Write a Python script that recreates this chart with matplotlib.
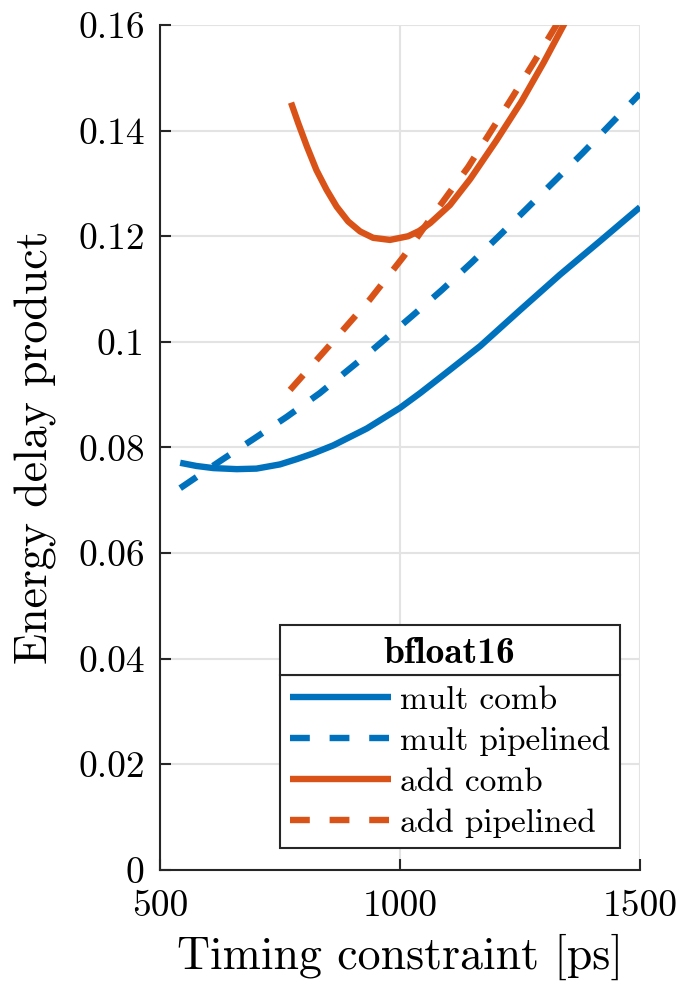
import matplotlib
matplotlib.use("Agg")
import matplotlib.pyplot as plt
from matplotlib.patches import Rectangle

# Energy-delay product vs. timing constraint (bfloat16 units)
mult_comb_t = [542, 576, 611, 660, 701, 750, 785, 820, 861, 931, 1000, 1042, 1083, 1167, 1250, 1333, 1417, 1500]
mult_comb_e = [0.0771, 0.0765, 0.0761, 0.0759, 0.0760, 0.0768, 0.0778, 0.0789, 0.0804, 0.0836, 0.0875,
               0.0903, 0.0932, 0.0992, 0.1060, 0.1127, 0.1191, 0.1255]

mult_pipe_t = [542, 628, 698, 764, 833, 930, 1024, 1087, 1149, 1208, 1267, 1380, 1500]
mult_pipe_e = [0.0723, 0.0776, 0.0818, 0.0858, 0.0903, 0.0975, 0.1048, 0.1098, 0.1150, 0.1202, 0.1255,
               0.1357, 0.1470]

add_comb_t = [773, 788, 806, 826, 847, 868, 892, 917, 944, 979, 1017, 1040, 1063, 1104, 1146, 1200,
              1253, 1300, 1344]
add_comb_e = [0.1453, 0.1414, 0.1370, 0.1325, 0.1288, 0.1256, 0.1228, 0.1209, 0.1197, 0.1193, 0.1200,
              0.1210, 0.1225, 0.1259, 0.1308, 0.1380, 0.1455, 0.1530, 0.1605]

add_pipe_t = [771, 850, 937, 1007, 1049, 1097, 1142, 1191, 1236, 1280, 1330]
add_pipe_e = [0.0909, 0.0990, 0.1080, 0.1161, 0.1215, 0.1275, 0.1331, 0.1401, 0.1466, 0.1531, 0.1606]

series_labels = ["mult comb", "mult pipelined", "add comb", "add pipelined"]
legend_title = "bfloat16"
x_ticks = [500, 1000, 1500]
y_ticks = [0, 0.02, 0.04, 0.06, 0.08, 0.1, 0.12, 0.14, 0.16]
y_tick_labels = ["0", "0.02", "0.04", "0.06", "0.08", "0.1", "0.12", "0.14", "0.16"]

BLUE = "#0072BD"
ORANGE = "#D95319"
DARK = "#262626"

plt.rcParams["font.family"] = ["cmr10", "DejaVu Serif"]
plt.rcParams["axes.formatter.use_mathtext"] = True

fig = plt.figure(figsize=(6.85, 9.91), dpi=100)
ax = fig.add_axes([0.2336, 0.1221, 0.9343 - 0.2336, 0.9748 - 0.1221])

lw = 4.6
dash = (3.1, 3.1)
ax.plot(mult_comb_t, mult_comb_e, color=BLUE, lw=lw, label=series_labels[0],
        solid_capstyle="butt", solid_joinstyle="round")
ax.plot(mult_pipe_t, mult_pipe_e, color=BLUE, lw=lw, dashes=dash, label=series_labels[1],
        dash_capstyle="butt")
ax.plot(add_comb_t, add_comb_e, color=ORANGE, lw=lw, label=series_labels[2],
        solid_capstyle="butt", solid_joinstyle="round")
ax.plot(add_pipe_t, add_pipe_e, color=ORANGE, lw=lw, dashes=dash, label=series_labels[3],
        dash_capstyle="butt")

ax.set_xlim(500, 1500)
ax.set_ylim(0, 0.16)
ax.set_xticks(x_ticks)
ax.set_xticklabels([str(t) for t in x_ticks])
ax.set_yticks(y_ticks)
ax.set_yticklabels(y_tick_labels)

ax.grid(True, color="#e3e3e3", lw=1.5)
ax.set_axisbelow(True)
for side in ("top", "right"):
    ax.spines[side].set_visible(False)
for side in ("left", "bottom"):
    ax.spines[side].set_color(DARK)
    ax.spines[side].set_linewidth(1.5)

ax.tick_params(direction="in", length=8, width=1.5, colors=DARK, labelsize=27, pad=11)
ax.tick_params(axis="x", pad=14)
for lbl in ax.get_xticklabels() + ax.get_yticklabels():
    lbl.set_color("black")

ax.set_xlabel("Timing constraint [ps]", fontsize=33)
ax.set_ylabel("Energy delay product", fontsize=33)
ax.xaxis.set_label_coords(0.5, -0.075)
ax.yaxis.set_label_coords(-0.215, 0.5)

leg = ax.legend(loc="lower right", bbox_to_anchor=(0.958, 0.026), fontsize=24,
                frameon=True, fancybox=False, edgecolor=DARK, framealpha=1,
                handlelength=3.05, handletextpad=0.25, labelspacing=0.35, borderpad=0.3,
                borderaxespad=0)
leg.get_frame().set_linewidth(1.5)

# Title cell stacked on top of the legend frame
fig.canvas.draw()
r = fig.canvas.get_renderer()
fb = leg.get_frame().get_window_extent(r)
title_h = 50
inv = fig.transFigure.inverted()
(x0, y0) = inv.transform((fb.x0, fb.y1))
(x1, y1) = inv.transform((fb.x1, fb.y1 + title_h))
fig.add_artist(Rectangle((x0, y0), x1 - x0, y1 - y0, transform=fig.transFigure,
                         facecolor="white", edgecolor=DARK, lw=1.5, zorder=10))
fig.text((x0 + x1) / 2, (y0 + y1) / 2, legend_title, family="cmb10", fontsize=27,
         ha="center", va="center_baseline", zorder=11)

fig.savefig("out.png", dpi=100)
